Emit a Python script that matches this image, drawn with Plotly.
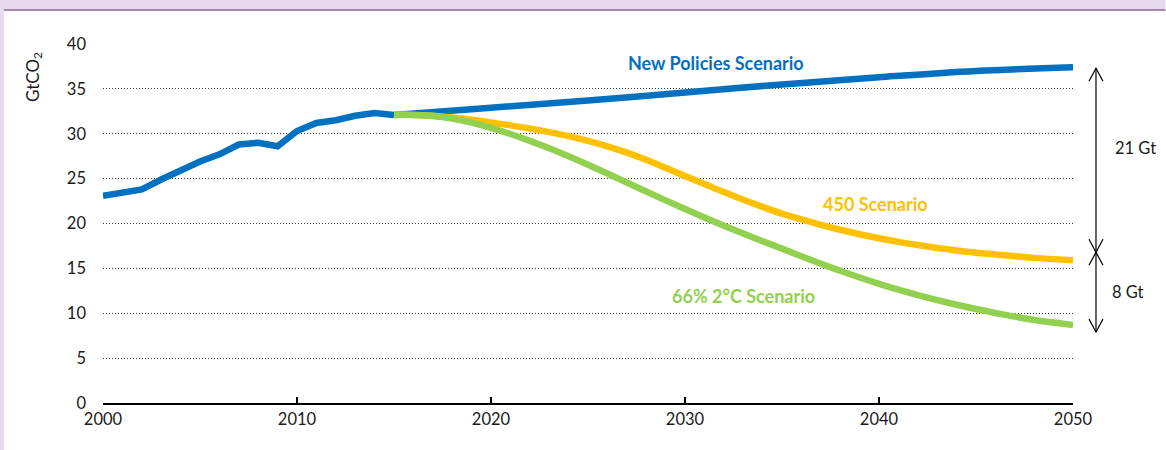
import plotly.graph_objects as go

# ---- data ----
hist_years = list(range(2000, 2016))
hist_co2 = [23.1, 23.4, 23.8, 24.9, 26.0, 26.9, 27.7, 28.8, 29.0, 28.6,
            30.3, 31.2, 31.5, 32.0, 32.3, 32.1]

nps_years = [2015, 2020, 2025, 2030, 2035, 2040, 2045, 2050]
nps_co2 = [32.1, 32.9, 33.7, 34.6, 35.5, 36.3, 37.0, 37.4]

proj_years = list(range(2015, 2051))
s450_co2 = [32.1, 32.1, 32.0, 31.8, 31.55, 31.25, 30.93, 30.58, 30.18, 29.73,
            29.2, 28.6, 27.9, 27.1, 26.2, 25.3, 24.4, 23.5, 22.65, 21.85,
            21.1, 20.45, 19.85, 19.3, 18.8, 18.35, 17.95, 17.6, 17.28, 17.0,
            16.75, 16.55, 16.35, 16.17, 16.03, 15.9]
s2c_co2 = [32.1, 32.1, 31.98, 31.68, 31.23, 30.65, 29.97, 29.21, 28.38, 27.49,
           26.55, 25.57, 24.57, 23.57, 22.58, 21.61, 20.67, 19.76, 18.88, 18.03,
           17.2, 16.35, 15.52, 14.73, 13.98, 13.28, 12.63, 12.03, 11.47, 10.95,
           10.47, 10.03, 9.62, 9.25, 8.96, 8.7]

series_names = ["New Policies Scenario", "450 Scenario", "66% 2°C Scenario"]
gap_labels = ["21 Gt", "8 Gt"]
arrow_levels = [37.3, 16.8, 7.9]   # top tip, cross, bottom tip (GtCO2)

x_ticks = [2000, 2010, 2020, 2030, 2040, 2050]
y_ticks = [0, 5, 10, 15, 20, 25, 30, 35, 40]

BLUE = "#0070C0"
ORANGE = "#FFC000"
GREEN = "#92D050"
TXT = "#1a1a1a"
FONT = "Lato"

fig = go.Figure()
fig.add_trace(go.Scatter(x=hist_years, y=hist_co2, mode="lines",
                         line=dict(color=BLUE, width=6.5), showlegend=False))
fig.add_trace(go.Scatter(x=nps_years, y=nps_co2, mode="lines",
                         line=dict(color=BLUE, width=6.5, shape="spline"), showlegend=False))
fig.add_trace(go.Scatter(x=proj_years, y=s450_co2, mode="lines",
                         line=dict(color=ORANGE, width=6.5, shape="spline"), showlegend=False))
fig.add_trace(go.Scatter(x=proj_years, y=s2c_co2, mode="lines",
                         line=dict(color=GREEN, width=6.5, shape="spline"), showlegend=False))

fig.update_xaxes(range=[2000, 2050], tickvals=x_ticks, showgrid=False,
                 showline=True, linecolor="black", linewidth=1.5,
                 ticks="inside", ticklen=6, tickcolor="black", tickwidth=1.5,
                 tickfont=dict(family=FONT, size=16.5, color=TXT),
                 zeroline=False, ticklabelstandoff=0)
fig.update_yaxes(range=[0, 40], tickvals=y_ticks, showgrid=True,
                 gridcolor="#333333", griddash="1px,2px", gridwidth=1.2,
                 showline=False, zeroline=False, ticks="",
                 tickfont=dict(family=FONT, size=16.5, color=TXT),
                 ticklabelstandoff=16)

xa = 1.0237
shapes = [
    # lavender frame
    dict(type="rect", xref="paper", yref="paper", x0=-0.11, x1=1.0953,
         y0=1.0947, y1=1.13, fillcolor="#E6DAEC", line_width=0, layer="below"),
    dict(type="rect", xref="paper", yref="paper", x0=-0.11, x1=-0.1022,
         y0=-0.14, y1=1.0947, fillcolor="#E6DAEC", line_width=0, layer="below"),
    dict(type="line", xref="paper", yref="paper", x0=-0.1022, x1=1.0953,
         y0=1.0947, y1=1.0947, line=dict(color="#8E6494", width=1.5)),
    # vertical arrow
    dict(type="line", xref="paper", yref="y", x0=xa, x1=xa,
         y0=arrow_levels[2], y1=arrow_levels[0], line=dict(color="black", width=1.2)),
    dict(type="path", xref="paper", yref="y", xsizemode="pixel", ysizemode="pixel",
         xanchor=xa, yanchor=arrow_levels[0], path="M -7,-13 L 0,0 L 7,-13",
         line=dict(color="black", width=1.2)),
    dict(type="path", xref="paper", yref="y", xsizemode="pixel", ysizemode="pixel",
         xanchor=xa, yanchor=arrow_levels[1],
         path="M -7,-13 L 0,0 L 7,-13 M -7,13 L 0,0 L 7,13",
         line=dict(color="black", width=1.2)),
    dict(type="path", xref="paper", yref="y", xsizemode="pixel", ysizemode="pixel",
         xanchor=xa, yanchor=arrow_levels[2], path="M -7,13 L 0,0 L 7,13",
         line=dict(color="black", width=1.2)),
]

annotations = [
    dict(x=2031.6, y=37.9, text="<b>" + series_names[0] + "</b>", showarrow=False,
         xanchor="center", font=dict(family=FONT, size=18, color=BLUE)),
    dict(x=2039.8, y=22.2, text="<b>" + series_names[1] + "</b>", showarrow=False,
         xanchor="center", font=dict(family=FONT, size=18, color=ORANGE)),
    dict(x=2033.0, y=11.9, text="<b>" + series_names[2] + "</b>", showarrow=False,
         xanchor="center", font=dict(family=FONT, size=18, color=GREEN)),
    dict(xref="paper", x=1.064, y=28.4, text=gap_labels[0], showarrow=False,
         xanchor="center", font=dict(family=FONT, size=16.5, color=TXT)),
    dict(xref="paper", x=1.057, y=12.4, text=gap_labels[1], showarrow=False,
         xanchor="center", font=dict(family=FONT, size=16.5, color=TXT)),
    dict(xref="paper", yref="paper", x=-0.0712, y=0.908, text="GtCO<sub>2</sub>",
         textangle=-90, showarrow=False, xanchor="center", yanchor="middle",
         font=dict(family=FONT, size=17, color=TXT)),
]

fig.update_layout(width=1166, height=450,
                  margin=dict(l=103, r=93, t=44, b=47),
                  paper_bgcolor="white", plot_bgcolor="white",
                  shapes=shapes, annotations=annotations, showlegend=False)

fig.write_html("out.html", config={"displayModeBar": False},
               post_script="document.body.style.margin='0px';document.body.style.overflow='hidden';")
